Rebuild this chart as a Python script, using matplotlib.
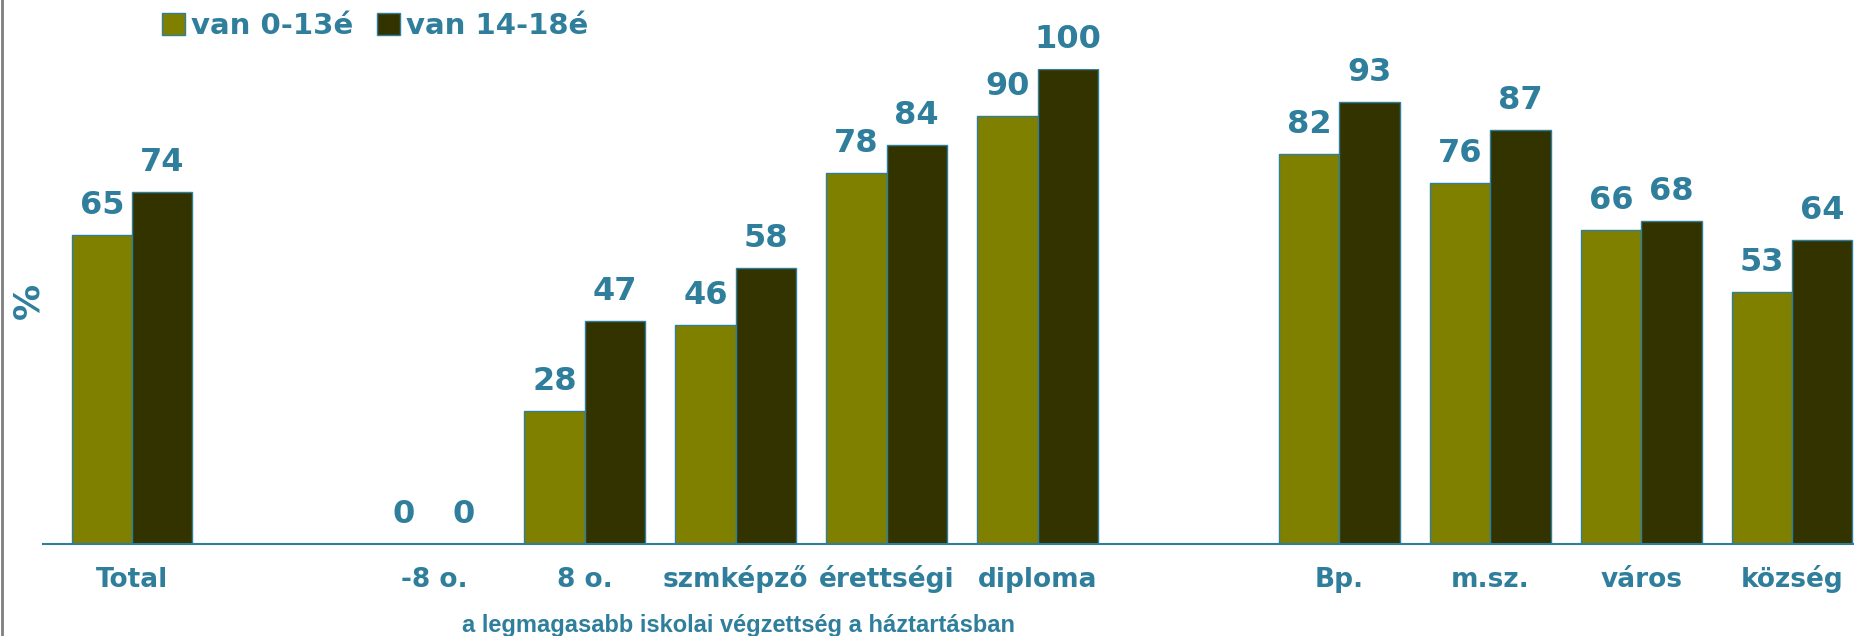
import numpy as np
import matplotlib
matplotlib.use("Agg")
import matplotlib.pyplot as plt
from matplotlib.patches import Patch
from matplotlib.lines import Line2D

# data
categories = ["Total", "-8 o.", "8 o.", "szmképző", "érettségi", "diploma",
              "Bp.", "m.sz.", "város", "község"]
positions = [0, 2, 3, 4, 5, 6, 8, 9, 10, 11]
van_0_13 = [65, 0, 28, 46, 78, 90, 82, 76, 66, 53]
van_14_18 = [74, 0, 47, 58, 84, 100, 93, 87, 68, 64]
series_names = ["van 0-13é", "van 14-18é"]

TEAL = "#2E7E9C"
OLIVE = "#808000"
DARK = "#333300"

fig = plt.figure(figsize=(18.54, 6.36), dpi=100)
ax = fig.add_axes([43 / 1854, 0.1447, 1 - 43 / 1854, 0.7475])

w = 0.4
pos = np.array(positions, dtype=float)
ax.bar(pos - w / 2, van_0_13, width=w, color=OLIVE, edgecolor=TEAL, linewidth=1)
ax.bar(pos + w / 2, van_14_18, width=w, color=DARK, edgecolor=TEAL, linewidth=1)

# value labels above the bars
for x, v in zip(pos - w / 2, van_0_13):
    ax.annotate(f"{v}", (x, v), xytext=(0, 21), textcoords="offset pixels",
                ha="center", va="baseline", fontsize=23, fontweight="bold",
                color=TEAL, annotation_clip=False)
for x, v in zip(pos + w / 2, van_14_18):
    ax.annotate(f"{v}", (x, v), xytext=(0, 21), textcoords="offset pixels",
                ha="center", va="baseline", fontsize=23, fontweight="bold",
                color=TEAL, annotation_clip=False)

# category labels under the axis
for x, lab in zip(pos, categories):
    ax.annotate(lab, (x, 0), xytext=(0, -43), textcoords="offset pixels",
                ha="center", va="baseline", fontsize=19, fontweight="bold",
                color=TEAL, annotation_clip=False)

ax.set_xlim(-0.59, 11.41)
ax.set_ylim(0, 100)
ax.set_xticks([])
ax.set_yticks([])
for s in ["top", "right", "left"]:
    ax.spines[s].set_visible(False)
ax.spines["bottom"].set_color(TEAL)
ax.spines["bottom"].set_linewidth(1.5)

# group title for the education categories
ax.annotate("a legmagasabb iskolai végzettség a háztartásban", (4.02, 0),
            xycoords=("data", "figure fraction"), xytext=(0, 4),
            textcoords="offset pixels", ha="center", va="baseline",
            fontsize=17, fontweight="bold", color=TEAL,
            family=["Liberation Sans", "DejaVu Sans"], annotation_clip=False)

fig.text(0.0154, 0.527, "%", rotation=90, ha="center", va="center",
         fontsize=26, fontweight="bold", color=TEAL)

handles = [Patch(facecolor=OLIVE, edgecolor=TEAL, linewidth=1),
           Patch(facecolor=DARK, edgecolor=TEAL, linewidth=1)]
leg = fig.legend(handles, series_names, loc="upper left",
                 bbox_to_anchor=(162 / 1854, 0.981), ncol=2, frameon=False,
                 handlelength=0.8, handleheight=0.8, handletextpad=0.2,
                 columnspacing=0.8, borderpad=0, borderaxespad=0,
                 prop={"size": 21, "weight": "bold"})
for t in leg.get_texts():
    t.set_color(TEAL)

# grey border on the left edge
fig.add_artist(Line2D([0.001, 0.001], [0, 1], transform=fig.transFigure,
                      color="#7f7f7f", linewidth=2))

fig.savefig("out.png", dpi=100)
